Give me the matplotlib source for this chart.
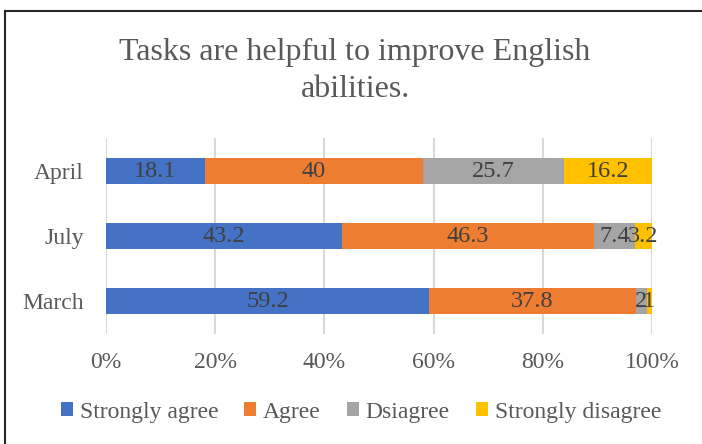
import numpy as np
import matplotlib.pyplot as plt
from matplotlib.lines import Line2D

plt.rcParams["font.family"] = ["Liberation Serif", "DejaVu Serif"]

months = ["March", "July", "April"]
responses = ["Strongly agree", "Agree", "Dsiagree", "Strongly disagree"]
strongly_agree = [59.2, 43.2, 18.1]
agree = [37.8, 46.3, 40]
disagree = [2, 7.4, 25.7]
strongly_disagree = [1, 3.2, 16.2]
colors = ["#4472C4", "#ED7D31", "#A5A5A5", "#FFC000"]

series = [strongly_agree, agree, disagree, strongly_disagree]
totals = np.sum(series, axis=0)

fig = plt.figure(figsize=(7.02, 4.44), dpi=100)
ax = fig.add_axes([106 / 702, 1 - 333.5 / 444, 546 / 702, 195 / 444])

y = np.arange(len(months))
left = np.zeros(len(months))
for vals, name, col in zip(series, responses, colors):
    vals = np.array(vals, dtype=float)
    width = vals / totals * 100
    ax.barh(y, width, left=left, height=0.4, color=col, label=name, zorder=3)
    for yi, l, w, v in zip(y, left, width, vals):
        ax.text(l + w / 2, yi, f"{v:g}", ha="center", va="center",
                fontsize=17.5, color="#404040", zorder=4)
    left += width

ax.set_xlim(0, 100)
ax.set_ylim(-0.5, 2.5)
ax.set_xticks(np.arange(0, 101, 20))
ax.set_xticklabels([f"{t}%" for t in range(0, 101, 20)])
ax.set_yticks(y)
ax.set_yticklabels(months)
ax.tick_params(length=0, labelsize=17, labelcolor="#595959")
ax.tick_params(axis="x", pad=13)
ax.tick_params(axis="y", pad=16)
ax.grid(axis="x", color="#D9D9D9", linewidth=1.5, zorder=0)
for s in ax.spines.values():
    s.set_visible(False)

fig.text(355 / 702, 1 - 71 / 444, "Tasks are helpful to improve English\nabilities.",
         ha="center", va="center", fontsize=23, color="#595959", linespacing=1.35)

fig.legend(loc="center", bbox_to_anchor=(361 / 702, 1 - 412 / 444), ncol=4,
           frameon=False, fontsize=17, labelcolor="#595959", handlelength=0.5,
           handleheight=0.5, handletextpad=0.3, columnspacing=1.1)

# frame lines along top and left edges
fig.add_artist(Line2D([5 / 702, 5 / 702], [0, 1 - 11 / 444], transform=fig.transFigure,
                      color="#262626", linewidth=1.5))
fig.add_artist(Line2D([5 / 702, 1], [1 - 11 / 444, 1 - 11 / 444], transform=fig.transFigure,
                      color="#262626", linewidth=1.5))

fig.savefig("out.png", dpi=100)
